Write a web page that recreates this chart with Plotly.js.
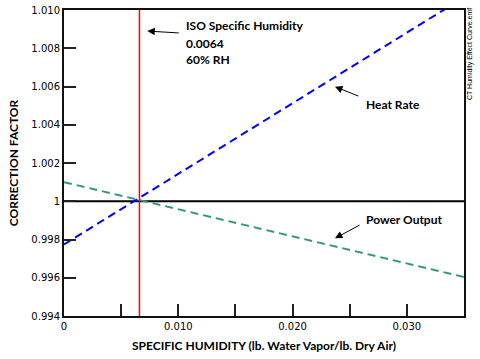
<!DOCTYPE html>
<html><head><meta charset="utf-8">
<script src="https://cdn.plot.ly/plotly-3.0.1.min.js"></script>
<style>html,body{margin:0;padding:0;background:#fff;}#chart{width:480px;height:359px;}</style>
</head><body><div id="chart"></div>
<script>
// Data
const humidityX = [0, 0.035];
const heatRate = [0.99774, 1.01066];
const powerOutput = [1.0010, 0.99604];
const isoHumidity = 0.0066;
const referenceLevel = 1;
const xTickVals = [0, 0.005, 0.010, 0.015, 0.020, 0.025, 0.030, 0.035];
const xTickText = ["0", "", "0.010", "", "0.020", "", "0.030", ""];
const yTickVals = [0.994, 0.996, 0.998, 1.000, 1.002, 1.004, 1.006, 1.008, 1.010];
const yTickText = ["0.994", "0.996", "0.998", "1", "1.002", "1.004", "1.006", "1.008", "1.010"];
const isoLines = ["ISO Specific Humidity", "0.0064", "60% RH"];

const lblFont = {family: "Lato, 'Open Sans', sans-serif", size: 12, color: "#000", weight: "bold"};

const traces = [
  {x: humidityX, y: [referenceLevel, referenceLevel], mode: "lines", line: {color: "#000", width: 2}, hoverinfo: "skip"},
  {x: [isoHumidity, isoHumidity], y: [0.994, 1.010], mode: "lines", line: {color: "#ff0000", width: 1.5}, hoverinfo: "skip"},
  {x: humidityX, y: powerOutput, mode: "lines", line: {color: "#2f9a6c", width: 2, dash: "8px,5px"}, name: "Power Output"},
  {x: humidityX, y: heatRate, mode: "lines", line: {color: "#0000ff", width: 2, dash: "8px,5px"}, name: "Heat Rate"}
];

const isoY = [1.00918, 1.00826, 1.00739];
const annotations = [];
isoLines.forEach((t, i) => annotations.push({
  x: 0.01053, y: isoY[i], xref: "x", yref: "y", text: "<b>" + t + "</b>", showarrow: false,
  xanchor: "left", yanchor: "middle", font: lblFont
}));
annotations.push({x: 0.02628, y: 1.00507, xref: "x", yref: "y", text: "<b>Heat Rate</b>", showarrow: false, xanchor: "left", yanchor: "middle", font: lblFont});
annotations.push({x: 0.02625, y: 0.99902, xref: "x", yref: "y", text: "<b>Power Output</b>", showarrow: false, xanchor: "left", yanchor: "middle", font: lblFont});
// arrows
annotations.push({x: 0.00729, y: 1.0089, xref: "x", yref: "y", text: "", showarrow: true, ax: 33, ay: 2, arrowhead: 2, arrowsize: 1.5, arrowwidth: 1, arrowcolor: "#000"});
annotations.push({x: 0.02371, y: 1.00599, xref: "x", yref: "y", text: "", showarrow: true, ax: 25, ay: 10, arrowhead: 2, arrowsize: 1.5, arrowwidth: 1, arrowcolor: "#000"});
annotations.push({x: 0.02371, y: 0.99806, xref: "x", yref: "y", text: "", showarrow: true, ax: 26, ay: -14, arrowhead: 2, arrowsize: 1.5, arrowwidth: 1, arrowcolor: "#000"});
// file tag
annotations.push({x: 1.015, y: 0.856, xref: "paper", yref: "paper", xanchor: "center", yanchor: "middle", text: "CT Humidity Effect Curve.emf", showarrow: false, textangle: -90, font: {family: "Liberation Sans, Arial, sans-serif", size: 7, color: "#000"}});

const axisCommon = {
  ticks: "inside", ticklen: 12, tickwidth: 2, tickcolor: "#222",
  showline: true, linecolor: "#111", linewidth: 2, mirror: true,
  showgrid: false, zeroline: false,
  tickfont: {family: "DejaVu Sans, sans-serif", size: 10, color: "#000"}
};

const layout = {
  width: 480, height: 359,
  margin: {l: 64, r: 16, t: 10, b: 43},
  showlegend: false,
  font: {family: "DejaVu Sans, sans-serif", size: 10, color: "#000"},
  xaxis: Object.assign({}, axisCommon, {
    range: [0, 0.035], tickvals: xTickVals, ticktext: xTickText,
    title: {text: "<b>SPECIFIC HUMIDITY (lb. Water Vapor/lb. Dry Air)</b>", font: lblFont, standoff: 11}
  }),
  yaxis: Object.assign({}, axisCommon, {
    range: [0.994, 1.010], tickvals: yTickVals, ticktext: yTickText,
    title: {text: "<b>CORRECTION FACTOR</b>", font: lblFont, standoff: 10}
  }),
  annotations: annotations
};

Plotly.newPlot("chart", traces, layout, {staticPlot: true, displayModeBar: false});
</script>
</body></html>
